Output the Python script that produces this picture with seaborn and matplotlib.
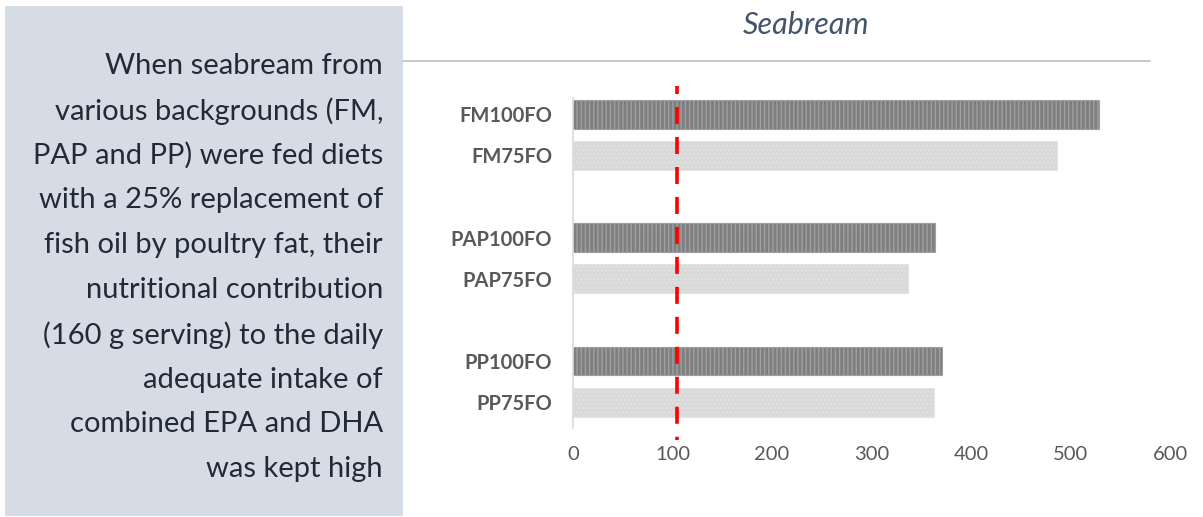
import pandas as pd
import seaborn as sns
import matplotlib.pyplot as plt
from matplotlib.patches import Rectangle
from matplotlib.lines import Line2D

# Data
diets = ['FM100FO', 'FM75FO', 'PAP100FO', 'PAP75FO', 'PP100FO', 'PP75FO']
values = [529, 486, 364, 337, 371, 363]
oil = ['100FO', '75FO', '100FO', '75FO', '100FO', '75FO']
order = ['FM100FO', 'FM75FO', ' ', 'PAP100FO', 'PAP75FO', '  ', 'PP100FO', 'PP75FO']
reference_intake = 105
x_ticks = [0, 100, 200, 300, 400, 500, 600]

note_lines = ['When seabream from',
              'various backgrounds (FM,',
              'PAP and PP) were fed diets',
              'with a 25% replacement of',
              'fish oil by poultry fat, their',
              'nutritional contribution',
              '(160 g serving) to the daily',
              'adequate intake of',
              'combined EPA and DHA',
              'was kept high']

df = pd.DataFrame({'Diet': diets, 'Value': values, 'Oil': oil})

sns.set_style('white')
plt.rcParams['font.family'] = ['Lato', 'DejaVu Sans']

W, H = 1203, 517
fig = plt.figure(figsize=(W / 100, H / 100), dpi=100)

# left text panel
fig.patches.append(Rectangle((5 / W, 1 - 516 / H), 398 / W, 510 / H,
                             transform=fig.transFigure, facecolor='#D6DCE5',
                             edgecolor='none', zorder=0))
for i, line in enumerate(note_lines):
    fig.text(383 / W, 1 - (66 + i * 44.8) / H, line, ha='right', va='center',
             fontsize=21, color='#222A35')

# title and rule under it
fig.text(806 / W, 1 - 25 / H, 'Seabream', ha='center', va='center',
         fontsize=22, style='italic', color='#44546A')
fig.lines.append(Line2D([403 / W, 1150 / W], [1 - 61 / H, 1 - 61 / H],
                        transform=fig.transFigure, color='#BFBFBF', lw=1.2))

ax = fig.add_axes([573 / W, (H - 440) / H, (1170 - 573) / W, 354 / H])
sns.barplot(data=df, y='Diet', x='Value', hue='Oil', order=order,
            palette={'100FO': '#7F7F7F', '75FO': '#D9D9D9'},
            dodge=False, width=0.7, legend=False, ax=ax)

for bar in ax.patches:
    fc = bar.get_facecolor()
    if fc[0] < 0.6:
        bar.set_hatch('||||')
        bar.set_edgecolor('#A0A0A0')
        bar.set_linewidth(0.8)
    else:
        bar.set_hatch('....')
        bar.set_edgecolor('#E2E2E2')
        bar.set_linewidth(0.6)

ax.axvline(reference_intake, color='#FF0000', lw=2.6, ls=(3.8, (4.7, 3.6)))

ax.set_xlim(0, 600)
ax.set_ylim(7.92, -0.69)
ax.set_xticks(x_ticks)
ax.set_xticklabels([str(t) for t in x_ticks])
ax.set_xlabel('')
ax.set_ylabel('')

for s in ['top', 'right', 'bottom']:
    ax.spines[s].set_visible(False)
ax.spines['left'].set_color('#D9D9D9')
ax.spines['left'].set_linewidth(1.2)
ax.spines['left'].set_bounds(-0.40, 7.63)

ax.tick_params(axis='both', length=0, colors='#595959', labelsize=14.5)
ax.tick_params(axis='y', pad=15)
ax.tick_params(axis='x', pad=4)
for lab in ax.get_yticklabels():
    lab.set_fontweight('bold')

fig.savefig('out.png', dpi=100)
